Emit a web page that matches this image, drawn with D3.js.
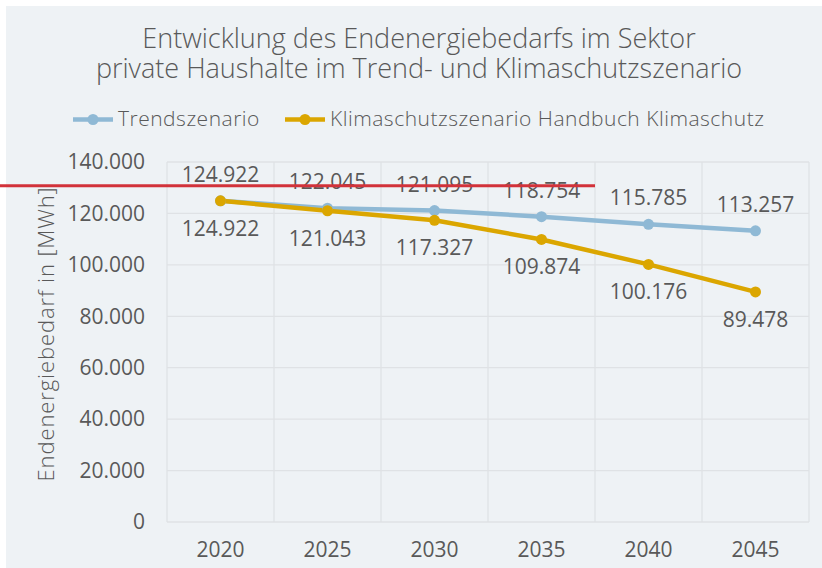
<!DOCTYPE html>
<html>
<head>
<meta charset="utf-8">
<script src="https://cdn.jsdelivr.net/npm/d3@7"></script>
<style>
  body { margin: 0; background: #fff; }
  svg { display: block; }
  svg text { font-family: "Open Sans", Lato, sans-serif; }
</style>
</head>
<body>
<div id="chart"></div>
<script>
// Daten
const jahre = ["2020", "2025", "2030", "2035", "2040", "2045"];
const trend = [124922, 122045, 121095, 118754, 115785, 113257];
const klima = [124922, 121043, 117327, 109874, 100176, 89478];
const yTicks = [0, 20000, 40000, 60000, 80000, 100000, 120000, 140000];
const serien = [
  { name: "Trendszenario", werte: trend, farbe: "#8fb9d5", oben: true },
  { name: "Klimaschutzszenario Handbuch Klimaschutz", werte: klima, farbe: "#dba600", oben: false }
];

const W = 822, H = 568;
const margin = { top: 162, right: 13, bottom: 46, left: 167 };
const width = W - margin.left - margin.right;
const height = H - margin.top - margin.bottom;

const fmt = v => d3.format(",")(v).replace(/,/g, ".");

const root = d3.select("#chart").append("svg")
    .attr("width", W).attr("height", H);

// Hintergrund
root.append("rect")
    .attr("x", 6).attr("y", 6)
    .attr("width", W - 6).attr("height", H - 6)
    .attr("fill", "#eef2f5");

const svg = root.append("g")
    .attr("transform", `translate(${margin.left},${margin.top})`);

// Skalen
const x = d3.scaleBand().domain(jahre).range([0, width]);
const y = d3.scaleLinear().domain([0, 140000]).range([height, 0]);

// Gitter
svg.append("g")
    .selectAll("line.h")
    .data(yTicks)
    .enter().append("line")
    .attr("x1", 0).attr("x2", width)
    .attr("y1", d => y(d)).attr("y2", d => y(d))
    .attr("stroke", "#dfe2e5").attr("stroke-width", 1.3);

svg.append("g")
    .selectAll("line.v")
    .data(jahre.concat(["end"]))
    .enter().append("line")
    .attr("x1", (d, i) => i < jahre.length ? x(d) : width)
    .attr("x2", (d, i) => i < jahre.length ? x(d) : width)
    .attr("y1", 0).attr("y2", height)
    .attr("stroke", "#dfe2e5").attr("stroke-width", 1.3);

// Achsen
const yAxis = svg.append("g")
    .call(d3.axisLeft(y).tickValues(yTicks).tickFormat(fmt).tickSize(0).tickPadding(22));
yAxis.select(".domain").remove();
yAxis.selectAll("text").attr("fill", "#595959").style("font-size", "21px");

const xAxis = svg.append("g")
    .attr("transform", `translate(0,${height})`)
    .call(d3.axisBottom(x).tickSize(0).tickPadding(20));
xAxis.select(".domain").remove();
xAxis.selectAll("text").attr("fill", "#595959").style("font-size", "21px");

// Achsentitel
root.append("text")
    .attr("transform", `translate(54,${334}) rotate(-90)`)
    .attr("text-anchor", "middle")
    .attr("fill", "#595959")
    .style("font-size", "22px")
    .style("letter-spacing", "0.9px")
    .style("font-weight", 300)
    .text("Endenergiebedarf in [MWh]");

// Linien und Punkte
const line = d3.line()
    .x((d, i) => x(jahre[i]) + x.bandwidth() / 2)
    .y(d => y(d));

serien.forEach(s => {
  svg.append("path")
      .datum(s.werte)
      .attr("fill", "none")
      .attr("stroke", s.farbe)
      .attr("stroke-width", 4.5)
      .attr("stroke-linejoin", "round")
      .attr("d", line);
});

serien.forEach(s => {
  svg.selectAll(null)
      .data(s.werte)
      .enter().append("circle")
      .attr("cx", (d, i) => x(jahre[i]) + x.bandwidth() / 2)
      .attr("cy", d => y(d))
      .attr("r", 5.5)
      .attr("fill", s.farbe);

  svg.selectAll(null)
      .data(s.werte)
      .enter().append("text")
      .attr("x", (d, i) => x(jahre[i]) + x.bandwidth() / 2)
      .attr("y", d => y(d) + (s.oben ? -19 : 35))
      .attr("text-anchor", "middle")
      .attr("fill", "#595959")
      .style("font-size", "21px")
      .text(fmt);
});

// Titel
const titel = ["Entwicklung des Endenergiebedarfs im Sektor",
               "private Haushalte im Trend- und Klimaschutzszenario"];
root.append("g").selectAll("text")
    .data(titel)
    .enter().append("text")
    .attr("x", 419)
    .attr("y", (d, i) => 48 + i * 30)
    .attr("text-anchor", "middle")
    .attr("fill", "#595959")
    .style("font-size", "27px")
    .style("font-weight", 300)
    .text(d => d);

// Legende
const legX = [73, 285];
serien.forEach((s, i) => {
  const g = root.append("g").attr("transform", `translate(${legX[i]},119.5)`);
  g.append("line").attr("x1", 0).attr("x2", 40)
      .attr("stroke", s.farbe).attr("stroke-width", 4.5);
  g.append("circle").attr("cx", 20).attr("r", 5.5).attr("fill", s.farbe);
  g.append("text").attr("x", 45).attr("y", 6)
      .attr("fill", "#595959")
      .style("font-size", "21px")
      .style("letter-spacing", "0.5px")
      .style("font-weight", 300)
      .text(s.name);
});

// rote Markierung
root.append("line")
    .attr("x1", 0).attr("x2", margin.left + x("2040"))
    .attr("y1", margin.top + y(130800)).attr("y2", margin.top + y(130800))
    .attr("stroke", "#d2323a").attr("stroke-width", 3);
</script>
</body>
</html>
